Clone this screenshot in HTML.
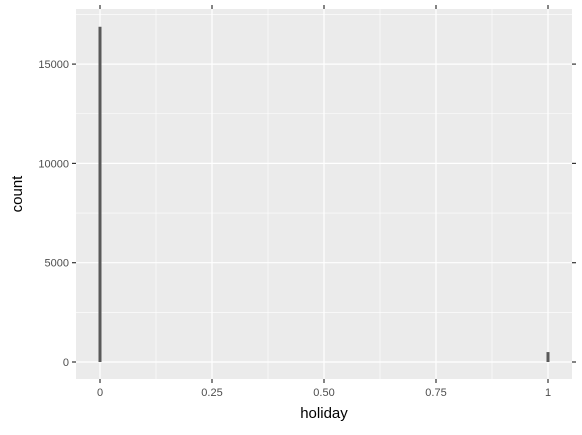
<!DOCTYPE html>
<html><head><meta charset="utf-8"><style>
body{margin:0;background:#fff;}
svg text{font-family:"Liberation Sans",sans-serif;}
</style></head><body>
<svg id="chart" width="582" height="430" xmlns="http://www.w3.org/2000/svg"></svg>
<script>
const binCenters = [0, 1];
const counts = [16880, 500];
const xTicks = [0, 0.25, 0.5, 0.75, 1];
const xTickLabels = ["0", "0.25", "0.50", "0.75", "1"];
const yTicks = [0, 5000, 10000, 15000];
const yTickLabels = ["0", "5000", "10000", "15000"];
const binWidth = 0.0067;

const ns = "http://www.w3.org/2000/svg";
const svg = document.getElementById("chart");
const L = 76, R = 572, T = 9, B = 379;
const x = v => 100 + v * 448;
const y = v => 362 - v * (99.3 / 5000);
function el(tag, attrs, parent) {
  const e = document.createElementNS(ns, tag);
  for (const k in attrs) e.setAttribute(k, attrs[k]);
  (parent || svg).appendChild(e);
  return e;
}
const panel = el("rect", {x: L, y: T, width: R - L, height: B - T, fill: "#ebebeb"});


// minor grid
for (let i = 0; i < xTicks.length - 1; i++) {
  const m = (xTicks[i] + xTicks[i + 1]) / 2;
  const g = el("line", {x1: x(m), x2: x(m), y1: T, y2: B, stroke: "#fff", "stroke-width": 0.6});
  
  
}
for (let i = 0; i < yTicks.length; i++) {
  const m = yTicks[i] + 2500;
  const g = el("line", {x1: L, x2: R, y1: y(m), y2: y(m), stroke: "#fff", "stroke-width": 0.6});
  
  
}
// major grid + ticks
xTicks.forEach((t, i) => {
  const g = el("line", {x1: x(t), x2: x(t), y1: T, y2: B, stroke: "#fff", "stroke-width": 1.2});
  
  
  el("line", {x1: x(t), x2: x(t), y1: B, y2: B + 4, stroke: "#333", "stroke-width": 1.2});
  el("line", {x1: x(t), x2: x(t), y1: T - 4, y2: T, stroke: "#333", "stroke-width": 1.2});
  const tx = el("text", {x: x(t), y: B + 17, "font-size": 11, fill: "#4d4d4d", "text-anchor": "middle"});
  tx.textContent = xTickLabels[i];
  
  
});
yTicks.forEach((t, i) => {
  const g = el("line", {x1: L, x2: R, y1: y(t), y2: y(t), stroke: "#fff", "stroke-width": 1.2});
  
  
  el("line", {x1: L - 4, x2: L, y1: y(t), y2: y(t), stroke: "#333", "stroke-width": 1.2});
  el("line", {x1: R, x2: R + 4, y1: y(t), y2: y(t), stroke: "#333", "stroke-width": 1.2});
  const tx = el("text", {x: L - 7, y: y(t) + 4, "font-size": 11, fill: "#4d4d4d", "text-anchor": "end"});
  tx.textContent = yTickLabels[i];
  
  
});
// bars
binCenters.forEach((c, i) => {
  const x0 = x(c - binWidth / 2), x1 = x(c + binWidth / 2);
  const b = el("rect", {x: x0, y: y(counts[i]), width: x1 - x0, height: y(0) - y(counts[i]), fill: "#595959"});
  
  
});
const xt = el("text", {x: (L + R) / 2, y: 418, "font-size": 15, fill: "#000", "text-anchor": "middle"});
xt.textContent = "holiday";


const yt = el("text", {x: 22, y: (T + B) / 2, "font-size": 15, fill: "#000", "text-anchor": "middle", transform: `rotate(-90 22 ${(T + B) / 2})`});
yt.textContent = "count";


</script>
</body></html>
